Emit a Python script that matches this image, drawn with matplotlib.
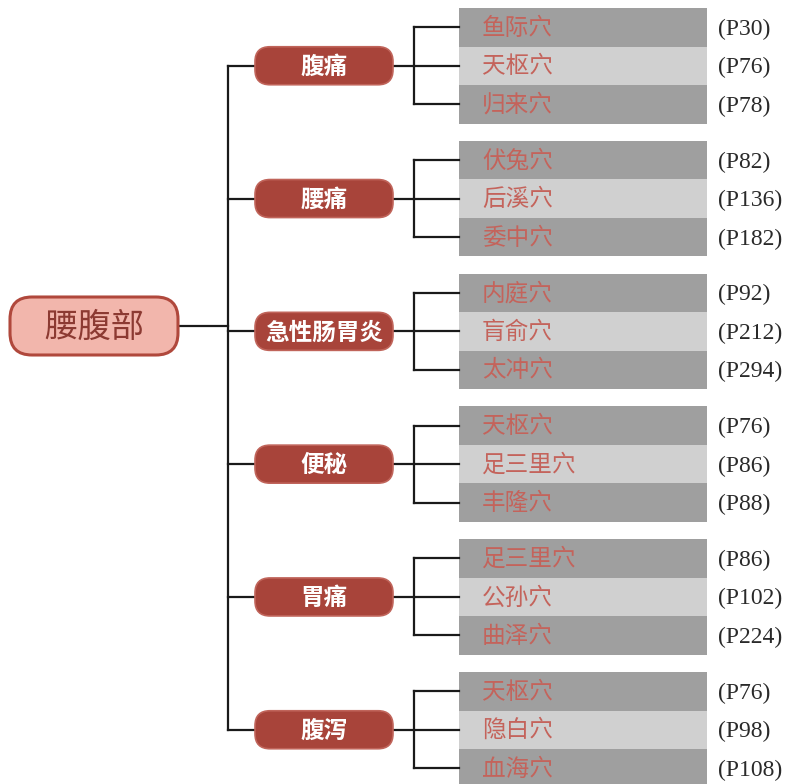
import matplotlib
matplotlib.use('Agg')
import numpy as np
import matplotlib.pyplot as plt
from matplotlib.patches import FancyBboxPatch, Rectangle

plt.rcParams['font.family'] = ['Noto Sans CJK SC', 'DejaVu Sans']

# datos del diagrama
raiz = '腰腹部'
categorias = ['腹痛', '腰痛', '急性肠胃炎', '便秘', '胃痛', '腹泻']
puntos = [
    ['鱼际穴', '天枢穴', '归来穴'],
    ['伏兔穴', '后溪穴', '委中穴'],
    ['内庭穴', '肓俞穴', '太冲穴'],
    ['天枢穴', '足三里穴', '丰隆穴'],
    ['足三里穴', '公孙穴', '曲泽穴'],
    ['天枢穴', '隐白穴', '血海穴'],
]
paginas = [
    ['P30', 'P76', 'P78'],
    ['P82', 'P136', 'P182'],
    ['P92', 'P212', 'P294'],
    ['P76', 'P86', 'P88'],
    ['P86', 'P102', 'P224'],
    ['P76', 'P98', 'P108'],
]

W, H = 789, 784
fig = plt.figure(figsize=(W / 100, H / 100), dpi=100)
ax = fig.add_axes([0, 0, 1, 1])
ax.set_xlim(0, W)
ax.set_ylim(H, 0)
ax.axis('off')

# geometria (pixeles)
fila_h = 38.5
tops = np.linspace(8, 672, len(categorias))
x_bloque, x_fin = 459, 707
x_llave = 414
x_caja0, x_caja1 = 255, 393
x_tronco = 228
lw = 1.6
gris_osc = '#9f9f9f'
gris_cla = '#d0d0d0'
rojo = '#a8443a'

centros = []
for i, cat in enumerate(categorias):
    top = tops[i]
    ys = [top + fila_h * (j + 0.5) for j in range(3)]
    yc = ys[1]
    centros.append(yc)

    # bloques grises y textos
    for j, (p, pg) in enumerate(zip(puntos[i], paginas[i])):
        color = gris_osc if j != 1 else gris_cla
        ax.add_patch(Rectangle((x_bloque, top + fila_h * j), x_fin - x_bloque, fila_h,
                               facecolor=color, edgecolor='none', zorder=1))
        ax.text(482, ys[j] + 1, p, fontsize=17, color='#c4635b', va='center', ha='left',
                zorder=3)
        ax.text(718, ys[j] + 2, '(' + pg + ')', fontsize=17, color='#2a2a2a',
                family='Liberation Serif', va='center', ha='left')

    # llave
    ax.plot([x_caja1, x_llave], [yc, yc], color='#1a1a1a', lw=lw, zorder=2)
    ax.plot([x_llave, x_llave], [ys[0], ys[2]], color='#1a1a1a', lw=lw, zorder=2)
    for y in ys:
        ax.plot([x_llave, x_bloque], [y, y], color='#1a1a1a', lw=lw, zorder=2)

    # caja de categoria
    ax.add_patch(FancyBboxPatch((x_caja0, yc - 19), x_caja1 - x_caja0, 38,
                                boxstyle='round,pad=0,rounding_size=15',
                                facecolor=rojo, edgecolor='#c0645a', lw=1.2, zorder=3))
    ax.text((x_caja0 + x_caja1) / 2, yc + 1, cat, fontsize=17, fontweight='bold',
            color='white', ha='center', va='center', zorder=4)
    ax.plot([x_tronco, x_caja0], [yc, yc], color='#1a1a1a', lw=lw, zorder=2)

# tronco y raiz
y_raiz = 326
ax.plot([x_tronco, x_tronco], [centros[0], centros[-1]], color='#1a1a1a', lw=lw, zorder=2)
ax.plot([178, x_tronco], [y_raiz, y_raiz], color='#1a1a1a', lw=lw, zorder=2)
ax.add_patch(FancyBboxPatch((10, 297), 168, 58,
                            boxstyle='round,pad=0,rounding_size=22',
                            facecolor='#f2b6ac', edgecolor='#b0483c', lw=2.2, zorder=3))
ax.text(94, y_raiz + 1, raiz, fontsize=24, color='#8c3a32', ha='center', va='center', zorder=4)

fig.savefig('out.png', dpi=100)
